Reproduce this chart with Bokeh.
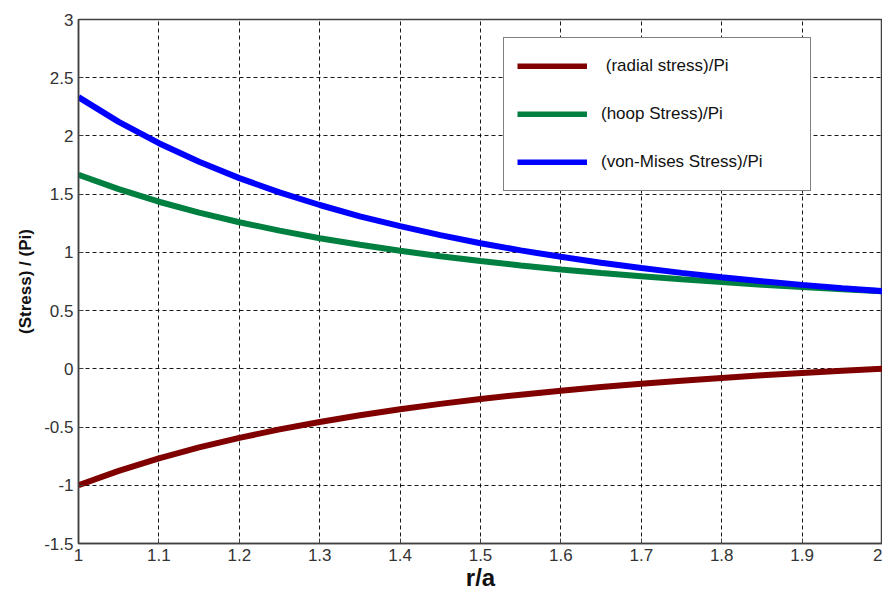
from bokeh.plotting import figure
from bokeh.models import Range1d, FixedTicker, Legend, LegendItem
from bokeh.embed import file_html
from bokeh.resources import INLINE

# r/a positions
r_over_a = [1.00, 1.05, 1.10, 1.15, 1.20, 1.25, 1.30, 1.35, 1.40, 1.45, 1.50,
            1.55, 1.60, 1.65, 1.70, 1.75, 1.80, 1.85, 1.90, 1.95, 2.00]
radial = [-1.000, -0.876, -0.769, -0.675, -0.593, -0.520, -0.456, -0.398, -0.347, -0.301, -0.259,
          -0.222, -0.188, -0.156, -0.128, -0.102, -0.078, -0.056, -0.036, -0.017, 0.000]
hoop = [1.667, 1.543, 1.435, 1.342, 1.259, 1.187, 1.122, 1.065, 1.014, 0.967, 0.926,
        0.888, 0.854, 0.823, 0.795, 0.769, 0.745, 0.723, 0.703, 0.684, 0.667]
von_mises = [2.333, 2.121, 1.938, 1.778, 1.638, 1.515, 1.407, 1.310, 1.225, 1.148, 1.079,
             1.017, 0.962, 0.911, 0.866, 0.824, 0.787, 0.753, 0.721, 0.693, 0.667]

x_ticks = [1.0, 1.1, 1.2, 1.3, 1.4, 1.5, 1.6, 1.7, 1.8, 1.9, 2.0]
x_tick_labels = ["1", "1.1", "1.2", "1.3", "1.4", "1.5", "1.6", "1.7", "1.8", "1.9", "2"]
y_ticks = [-1.5, -1.0, -0.5, 0.0, 0.5, 1.0, 1.5, 2.0, 2.5, 3.0]
y_tick_labels = ["-1.5", "-1", "-0.5", "0", "0.5", "1", "1.5", "2", "2.5", "3"]

series_names = [" (radial stress)/Pi", "(hoop Stress)/Pi", "(von-Mises Stress)/Pi"]
series_colors = ["#800000", "#008040", "#0000FF"]
series_values = [radial, hoop, von_mises]

FONT = "Liberation Sans"
AXIS_COLOR = "#404040"

p = figure(frame_width=804, frame_height=524,
           x_range=Range1d(1, 2), y_range=Range1d(-1.5, 3),
           output_backend="svg", toolbar_location=None,
           min_border_left=78, min_border_top=19, min_border_right=0, min_border_bottom=10,
           background_fill_color="white", border_fill_color="white")

p.outline_line_color = AXIS_COLOR
p.outline_line_width = 1.5

items = []
for name, color, vals in zip(series_names, series_colors, series_values):
    r = p.line(r_over_a, vals, line_color=color, line_width=6)
    items.append(LegendItem(label=name, renderers=[r]))

# axes
p.xaxis.ticker = FixedTicker(ticks=x_ticks)
p.yaxis.ticker = FixedTicker(ticks=y_ticks)
p.xaxis.major_label_overrides = {t: l for t, l in zip(x_ticks, x_tick_labels)}
p.yaxis.major_label_overrides = {t: l for t, l in zip(y_ticks, y_tick_labels)}
for ax in (p.xaxis, p.yaxis):
    ax.axis_line_color = AXIS_COLOR
    ax.axis_line_width = 1.5
    ax.major_tick_line_color = AXIS_COLOR
    ax.major_tick_in = 5
    ax.major_tick_out = 0
    ax.minor_tick_line_color = None
    ax.major_label_text_font = FONT
    ax.major_label_text_font_size = "17px"
    ax.major_label_text_color = "#333333"
    ax.major_label_standoff = 5
    ax.axis_label_text_font = FONT
    ax.axis_label_text_font_style = "bold"
    ax.axis_label_text_color = "#111111"

p.xaxis.axis_label = "r/a"
p.xaxis.axis_label_text_font_size = "24px"
p.xaxis.axis_label_standoff = 0
p.yaxis.axis_label = "(Stress) / (Pi)"
p.yaxis.axis_label_text_font_size = "17px"
p.yaxis.axis_label_standoff = 6

# grid
for g in (p.xgrid, p.ygrid):
    g.grid_line_color = "black"
    g.grid_line_dash = "4 3"
    g.grid_line_width = 1
    g.grid_line_alpha = 0.9

legend = Legend(items=items, location=(425, 352),
                glyph_width=70, glyph_height=6, label_standoff=14,
                label_width=196, label_height=30, spacing=18, padding=13,
                label_text_font=FONT, label_text_font_size="17px",
                label_text_color="#111111",
                border_line_color="black", border_line_width=1.5,
                background_fill_color="white", background_fill_alpha=1.0,
                margin=0)
p.add_layout(legend, "center")

open("out.html", "w").write(file_html(p, INLINE))
